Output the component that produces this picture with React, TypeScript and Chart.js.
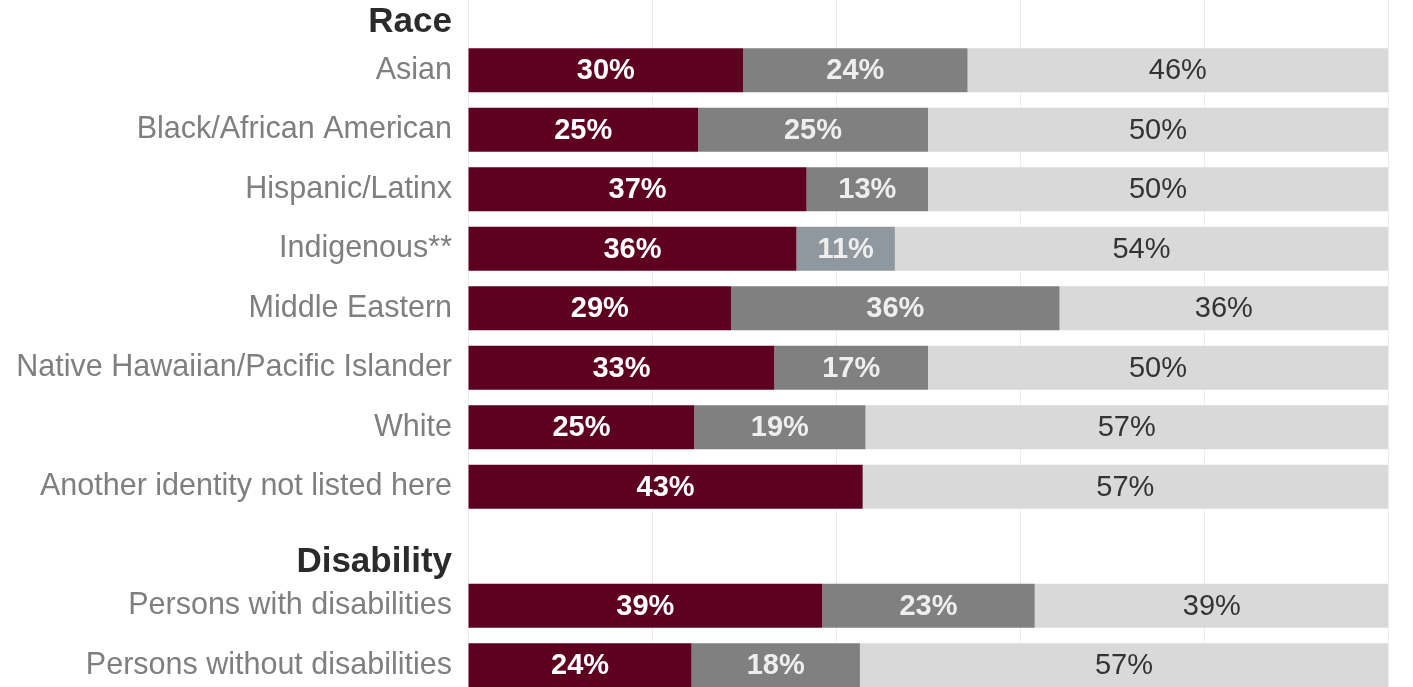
import React, { useEffect, useRef } from "react";
import { Chart, registerables } from "chart.js";

Chart.register(...registerables);

// ---- data ----
const groupHeaders = ["Race", "Disability"];
const raceCategories = [
  "Asian",
  "Black/African American",
  "Hispanic/Latinx",
  "Indigenous**",
  "Middle Eastern",
  "Native Hawaiian/Pacific Islander",
  "White",
  "Another identity not listed here",
];
const raceSegment1 = [29.9, 25.0, 36.8, 35.7, 28.6, 33.3, 24.6, 42.9];
const raceSegment2 = [24.4, 25.0, 13.2, 10.7, 35.7, 16.7, 18.6, 0];
const raceSegment3 = [45.7, 50.0, 50.0, 53.6, 35.7, 50.0, 56.8, 57.1];

const disabilityCategories = ["Persons with disabilities", "Persons without disabilities"];
const disabilitySegment1 = [38.5, 24.3];
const disabilitySegment2 = [23.1, 18.3];
const disabilitySegment3 = [38.5, 57.4];

const xTickValues = [0, 20, 40, 60, 80, 100];

// ---- styles ----
const FONT = "'Liberation Sans', Arial, Helvetica, sans-serif";
const MAROON = "#5e0120";
const GRAY = "#808080";
const BLUE_GRAY = "#8e989e";
const LIGHT = "#d9d9d9";

const labels: (string | string[])[] = [
  ["", groupHeaders[0]],
  ...raceCategories,
  ["", groupHeaders[1]],
  ...disabilityCategories,
];
const headerIdx = [0, raceCategories.length + 1];
const build = (race: number[], dis: number[]) => [null, ...race, null, ...dis];

const seg1 = build(raceSegment1, disabilitySegment1);
const seg2 = build(raceSegment2, disabilitySegment2);
const seg3 = build(raceSegment3, disabilitySegment3);

const indigenousIdx = 1 + raceCategories.indexOf("Indigenous**");

const labelColors = ["#ffffff", "#eeeeee", "#333333"];
const labelWeights = ["bold", "bold", "normal"];

const barLabelPlugin = {
  id: "barLabels",
  afterDatasetsDraw(chart: any) {
    const ctx = chart.ctx;
    ctx.save();
    ctx.textAlign = "center";
    ctx.textBaseline = "middle";
    chart.data.datasets.forEach((ds: any, di: number) => {
      const meta = chart.getDatasetMeta(di);
      meta.data.forEach((bar: any, j: number) => {
        const v = ds.data[j];
        if (v == null || v <= 0) return;
        const p = bar.getProps(["x", "y", "base"], true);
        ctx.font = `${labelWeights[di]} 29px ${FONT}`;
        ctx.fillStyle = labelColors[di];
        ctx.fillText(Math.round(v) + "%", (p.x + p.base) / 2, p.y + 1);
      });
    });
    ctx.restore();
  },
};

export default function App() {
  const ref = useRef<HTMLCanvasElement>(null);

  useEffect(() => {
    if (!ref.current) return;
    const chart = new Chart(ref.current, {
      type: "bar",
      data: {
        labels,
        datasets: [
          {
            label: "Segment 1",
            data: seg1,
            backgroundColor: MAROON,
            barPercentage: 0.74,
            categoryPercentage: 1,
          },
          {
            label: "Segment 2",
            data: seg2,
            backgroundColor: labels.map((_, i) => (i === indigenousIdx ? BLUE_GRAY : GRAY)),
            barPercentage: 0.74,
            categoryPercentage: 1,
          },
          {
            label: "Segment 3",
            data: seg3,
            backgroundColor: LIGHT,
            barPercentage: 0.74,
            categoryPercentage: 1,
          },
        ],
      } as any,
      options: {
        indexAxis: "y",
        responsive: false,
        animation: false,
        devicePixelRatio: 1,
        layout: { padding: { left: 0, right: 25, top: 0, bottom: 0 } },
        plugins: {
          legend: { display: false },
          tooltip: { enabled: false },
        },
        scales: {
          x: {
            stacked: true,
            min: 0,
            max: 100,
            afterBuildTicks: (s: any) => {
              s.ticks = xTickValues.map((v) => ({ value: v }));
            },
            afterFit: (s: any) => {
              s.height = 0;
              s.paddingLeft = 0;
              s.paddingRight = 0;
            },
            ticks: { display: false },
            grid: { color: "#ededed", lineWidth: 1, drawTicks: false },
            border: { display: false },
          },
          y: {
            stacked: true,
            afterFit: (s: any) => {
              s.width = 468;
              s.paddingTop = 0;
              s.paddingBottom = 0;
            },
            grid: { display: false, drawTicks: false },
            border: { display: false },
            ticks: {
              padding: 16,
              autoSkip: false,
              color: (c: any) => (headerIdx.includes(c.index) ? "#2b2b2b" : "#7f7f7f"),
              font: (c: any) => {
                if (c.index === headerIdx[0])
                  return { family: FONT, size: 35, weight: "bold", lineHeight: "23px" } as any;
                if (c.index === headerIdx[1])
                  return { family: FONT, size: 35, weight: "bold", lineHeight: "32px" } as any;
                return { family: FONT, size: 30.5, weight: "normal" } as any;
              },
            },
          },
        },
      } as any,
      plugins: [barLabelPlugin],
    });
    return () => chart.destroy();
  }, []);

  return (
    <div style={{ position: "fixed", left: 0, top: -19, width: 1413, height: 714 }}>
      <canvas ref={ref} width={1413} height={714} style={{ display: "block" }} />
    </div>
  );
}
